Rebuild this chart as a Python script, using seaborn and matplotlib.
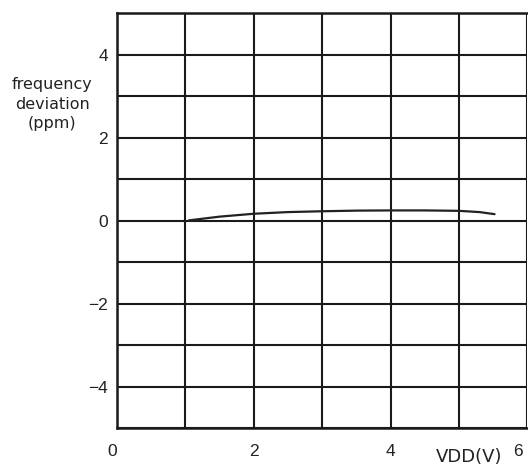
import matplotlib
matplotlib.use("Agg")
import matplotlib.pyplot as plt
import matplotlib.transforms as mtransforms
import seaborn as sns
import pandas as pd

# data
vdd = [1.05, 1.5, 2.0, 2.5, 3.0, 3.5, 4.0, 4.5, 5.0, 5.3, 5.52]
deviation = [0.01, 0.10, 0.17, 0.21, 0.23, 0.245, 0.25, 0.25, 0.24, 0.21, 0.16]
x_ticks = [0, 1, 2, 3, 4, 5, 6]
x_labels = ["0", "", "2", "", "4", "", ""]
y_ticks = [-5, -4, -3, -2, -1, 0, 1, 2, 3, 4, 5]
y_labels = ["", "\u22124", "", "\u22122", "", "0", "", "2", "", "4", ""]

sns.set_theme(style="white")
plt.rcParams["font.family"] = ["DejaVu Sans"]

W, H = 528, 469
fig = plt.figure(figsize=(W / 100, H / 100), dpi=100)
left, right, top, bottom = 117, 527.4, 13.3, 428.3
ax = fig.add_axes([left / W, (H - bottom) / H, (right - left) / W, (bottom - top) / H])

df = pd.DataFrame({"VDD": vdd, "dev": deviation})
sns.lineplot(data=df, x="VDD", y="dev", ax=ax, color="#222222", linewidth=1.6)

ax.set_xlim(0, 6)
ax.set_ylim(-5, 5)
ax.set_xticks(x_ticks)
ax.set_xticklabels(x_labels)
ax.set_yticks(y_ticks)
ax.set_yticklabels(y_labels)
ax.tick_params(axis="both", length=0, labelsize=12.5, colors="#222222")
ax.tick_params(axis="x", pad=11)
ax.tick_params(axis="y", pad=6.5)
for lab in ax.get_xticklabels() + ax.get_yticklabels():
    lab.set_family("Liberation Sans")
first = ax.get_xticklabels()[0]
first.set_transform(first.get_transform() +
                    mtransforms.ScaledTranslation(-5 / 100, 0, fig.dpi_scale_trans))

ax.grid(True, color="#1a1a1a", linewidth=1.5)
for s in ["left", "bottom", "top"]:
    ax.spines[s].set_color("#1a1a1a")
    ax.spines[s].set_linewidth(1.8)
ax.spines["right"].set_visible(False)
ax.set_xlabel("")
ax.set_ylabel("")

# extra labels
ax.annotate("6", xy=(5.86, 0), xycoords=("data", "axes fraction"),
            xytext=(0, -11), textcoords="offset points", ha="center", va="top",
            fontsize=12.5, family="Liberation Sans", color="#222222")
ax.annotate("VDD(V)", xy=(5.15, 0), xycoords=("data", "axes fraction"),
            xytext=(0, -20.5), textcoords="offset points", ha="center", va="center",
            fontsize=13, color="#222222")
fig.text(52 / W, 1 - 104 / H, "frequency\ndeviation\n(ppm)", ha="center", va="center",
         multialignment="center", fontsize=11.5, linespacing=1.35, color="#222222")

fig.savefig("out.png", dpi=100)
